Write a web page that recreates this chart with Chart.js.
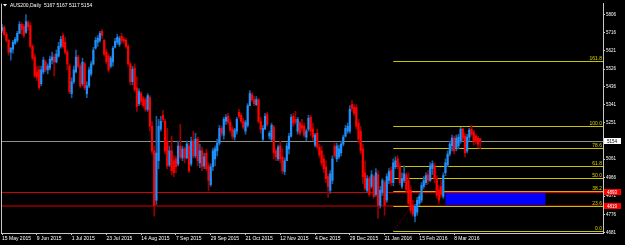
<!DOCTYPE html>
<html>
<head>
<meta charset="utf-8">
<script src="https://cdn.jsdelivr.net/npm/chart.js@4.4.1/dist/chart.umd.min.js"></script>
<style>
  html, body { margin: 0; padding: 0; background: #000; }
  canvas { display: block; }
</style>
</head>
<body>
<canvas id="chart" width="625" height="245"></canvas>
<script>
var chartTitle = 'AUS200,Daily  5167 5167 5117 5154';

// one date label every 16 bars, starting at bar 0
var dateLabels = ['15 May 2015', '9 Jun 2015', '1 Jul 2015', '23 Jul 2015', '14 Aug 2015', '7 Sep 2015',
  '29 Sep 2015', '21 Oct 2015', '12 Nov 2015', '4 Dec 2015', '29 Dec 2015', '21 Jan 2016', '15 Feb 2016', '8 Mar 2016'];

var opens = [5726,5741,5706,5675,5614,5629,5660,5675,5711,5757,
  5746,5716,5767,5751,5644,5588,5512,5522,5451,5512,
  5563,5522,5532,5573,5588,5563,5593,5644,5700,5665,
  5614,5542,5400,5461,5512,5588,5542,5451,5553,5400,
  5440,5502,5553,5634,5665,5675,5721,5675,5614,5593,
  5542,5563,5639,5665,5654,5695,5680,5675,5644,5553,
  5461,5532,5430,5348,5400,5374,5369,5318,5379,5231,
  5104,4849,5053,5216,5287,5257,5155,5032,5104,5053,
  5063,5037,5129,5068,5114,5068,5129,5037,5155,5078,
  5165,5042,5104,5027,5093,5027,4930,5022,5063,5104,
  5144,5221,5185,5257,5282,5252,5216,5175,5206,5303,
  5287,5257,5206,5236,5338,5394,5369,5343,5369,5257,
  5165,5216,5292,5180,5165,5226,5104,5063,5129,5073,
  4997,5053,5114,5180,5282,5267,5206,5247,5236,5231,
  5175,5216,5277,5216,5134,5195,5124,5104,5063,5022,
  4971,4900,4951,5129,5063,5073,5093,5139,5180,5206,
  5206,5343,5328,5328,5247,5206,5114,4991,4900,4961,
  4920,4971,4879,4981,4823,4889,4940,4849,4951,5002,
  4940,5022,5063,5022,4920,4951,4981,4951,4900,4823,
  4767,4787,4833,4849,4920,4940,4981,4951,5012,5027,
  4961,4900,4920,4869,4991,5032,5088,5129,5170,5114,
  5129,5155,5216,5180,5104,5175,5216,5201,5180,5170,
  5167];

var closes = [5741,5706,5675,5614,5634,5665,5680,5711,5757,5731,
  5700,5772,5746,5644,5583,5491,5486,5430,5522,5573,
  5522,5542,5578,5588,5563,5604,5644,5680,5644,5614,
  5553,5410,5461,5522,5588,5542,5440,5563,5430,5440,
  5522,5553,5624,5675,5685,5711,5700,5604,5563,5522,
  5583,5634,5670,5690,5685,5675,5670,5644,5553,5461,
  5527,5420,5333,5410,5359,5338,5318,5389,5231,5104,
  4823,5093,5231,5257,5267,5104,5027,5104,5002,4991,
  5022,5129,5073,5114,5068,5139,5002,5155,5078,5165,
  5053,5104,5022,5073,5012,4951,5022,5104,5114,5144,
  5221,5195,5267,5277,5252,5211,5180,5211,5267,5282,
  5257,5226,5252,5338,5400,5369,5348,5369,5257,5216,
  5221,5282,5241,5195,5236,5093,5073,5124,5063,5002,
  5053,5129,5180,5277,5247,5252,5267,5195,5221,5185,
  5206,5272,5206,5175,5185,5124,5083,5042,5012,4961,
  4920,4986,5063,5078,5129,5114,5139,5175,5221,5231,
  5318,5323,5298,5231,5165,5104,4971,4910,4961,4879,
  4981,4869,4991,4823,4900,4951,4823,4971,4997,4940,
  5042,5053,5022,4940,4961,4986,4905,4833,4798,4777,
  4818,4849,4869,4925,4951,4976,4951,5027,5037,4961,
  4874,4849,4879,4976,5042,5088,5139,5170,5104,5170,
  5175,5216,5170,5093,5175,5211,5190,5150,5155,5139,
  5154];

var highs = [5757,5751,5716,5680,5639,5675,5690,5721,5772,5767,
  5757,5808,5777,5767,5654,5604,5542,5542,5542,5588,
  5573,5553,5593,5614,5604,5624,5665,5695,5711,5690,
  5624,5553,5481,5542,5624,5598,5553,5583,5563,5461,
  5537,5568,5639,5690,5700,5721,5731,5680,5629,5604,
  5593,5644,5685,5706,5695,5711,5690,5685,5654,5563,
  5542,5553,5486,5425,5410,5384,5379,5400,5389,5257,
  5129,5282,5267,5282,5313,5267,5221,5129,5180,5078,
  5078,5155,5241,5129,5124,5155,5144,5175,5206,5195,
  5175,5139,5124,5093,5114,5042,5037,5119,5129,5165,
  5236,5231,5277,5292,5298,5267,5231,5221,5277,5318,
  5298,5272,5262,5348,5415,5405,5384,5384,5374,5277,
  5236,5298,5303,5206,5247,5236,5114,5134,5155,5114,
  5068,5144,5195,5292,5298,5308,5277,5257,5267,5247,
  5216,5287,5287,5247,5195,5216,5139,5129,5083,5053,
  4986,5002,5078,5144,5144,5134,5155,5185,5236,5247,
  5338,5364,5343,5343,5267,5231,5139,5053,4976,4971,
  5002,4981,5012,5002,4920,4961,4951,4986,5012,5022,
  5063,5073,5078,5042,4991,5027,4991,4991,4925,4849,
  4828,4864,4884,4940,4971,4991,5002,5042,5053,5042,
  4976,4925,4951,4991,5063,5104,5155,5185,5180,5185,
  5190,5226,5221,5195,5190,5221,5236,5211,5190,5180,
  5167];

var lows = [5716,5700,5665,5598,5573,5609,5654,5665,5711,5706,
  5690,5711,5726,5634,5573,5481,5466,5420,5440,5502,
  5512,5502,5522,5553,5491,5558,5588,5634,5634,5604,
  5522,5400,5379,5451,5507,5532,5430,5440,5420,5379,
  5430,5491,5547,5629,5644,5665,5685,5593,5553,5512,
  5532,5542,5634,5654,5644,5660,5660,5634,5542,5445,
  5445,5410,5308,5338,5343,5328,5308,5308,5206,5088,
  4767,4828,5012,5206,5252,5088,5012,5022,4981,4971,
  4991,5027,5063,5053,5042,5063,4991,5027,5068,5068,
  5027,5017,5002,5012,5002,4900,4920,5002,5027,5078,
  5134,5180,5165,5241,5241,5201,5165,5160,5190,5272,
  5247,5216,5190,5226,5338,5359,5338,5338,5247,5195,
  5155,5216,5231,5165,5155,5063,5053,5053,5042,4986,
  4981,5053,5088,5175,5231,5241,5190,5185,5206,5175,
  5155,5206,5185,5155,5124,5114,5068,5027,4991,4940,
  4864,4884,4935,5068,5048,5063,5078,5129,5175,5195,
  5195,5308,5287,5216,5144,5088,4935,4900,4889,4869,
  4910,4859,4869,4757,4808,4874,4772,4838,4935,4925,
  4925,5012,5012,4930,4910,4940,4895,4818,4782,4767,
  4737,4772,4823,4838,4910,4930,4935,4946,4981,4940,
  4859,4833,4864,4859,4976,5022,5078,5104,5088,5104,
  5114,5144,5155,5073,5093,5155,5180,5134,5139,5119,
  5117];

var priceTicks = [5806, 5716, 5621, 5526, 5436, 5341, 5251, 5061, 4966, 4871, 4776, 4681];
var fibLevels = [0.0, 23.6, 38.2, 50.0, 61.8, 78.6, 100.0, 161.8];
var fibLow = 4692, fibHigh = 5234;
var fibStartBar = 180, fibEndBar = 216;
var currentPrice = 5154;
var supportLines = [4893, 4819];
var zoneBars = [204, 250];
var zonePrices = [4893, 4819];

var slotCount = 277;   // bars that fit across the window, incl. empty right margin
var slots = [];
for (var s = 0; s < slotCount; s++) slots.push(s);

function isBull(i) { return closes[i] >= opens[i]; }

function hline(ctx, x0, x1, y, color, w) {
  ctx.strokeStyle = color;
  ctx.lineWidth = w;
  ctx.beginPath();
  ctx.moveTo(x0, Math.round(y) + (w % 2 ? 0.5 : 0));
  ctx.lineTo(x1, Math.round(y) + (w % 2 ? 0.5 : 0));
  ctx.stroke();
}

var overlay = {
  id: 'overlay',
  beforeDatasetsDraw: function(chart) {
    var ctx = chart.ctx, xs = chart.scales.x, ys = chart.scales.y, a = chart.chartArea;
    ctx.save();

    // blue zone
    var zx0 = xs.getPixelForValue(zoneBars[0]), zx1 = xs.getPixelForValue(zoneBars[1]);
    var zy0 = ys.getPixelForValue(zonePrices[0]), zy1 = ys.getPixelForValue(zonePrices[1]);
    ctx.fillStyle = '#0000ff';
    ctx.fillRect(zx0, zy0, zx1 - zx0, zy1 - zy0);

    // horizontal lines
    hline(ctx, a.left, a.right, ys.getPixelForValue(currentPrice), '#8c8c8c', 1);
    hline(ctx, a.left, a.right, ys.getPixelForValue(supportLines[0]), '#d00000', 1);
    hline(ctx, a.left, a.right, ys.getPixelForValue(supportLines[1]), '#6e0000', 2);

    // fibonacci levels
    var fx = xs.getPixelForValue(fibStartBar);
    fibLevels.forEach(function(lv) {
      var p = fibLow + (fibHigh - fibLow) * lv / 100;
      hline(ctx, fx, a.right, ys.getPixelForValue(p), lv === 38.2 ? '#f0a000' : '#c8c400', 1);
    });

    // fibonacci trend line
    ctx.strokeStyle = '#b00000';
    ctx.lineWidth = 1;
    ctx.setLineDash([1, 2]);
    ctx.beginPath();
    ctx.moveTo(fx, ys.getPixelForValue(fibLow));
    ctx.lineTo(xs.getPixelForValue(fibEndBar), ys.getPixelForValue(fibHigh));
    ctx.stroke();
    ctx.setLineDash([]);
    ctx.restore();
  },
  afterDraw: function(chart) {
    var ctx = chart.ctx, ys = chart.scales.y, a = chart.chartArea;
    ctx.save();

    // left frame line
    ctx.strokeStyle = '#c8c8c8';
    ctx.lineWidth = 1;
    ctx.beginPath();
    ctx.moveTo(a.left + 0.5, a.top);
    ctx.lineTo(a.left + 0.5, a.bottom);
    ctx.stroke();

    // fib level labels
    ctx.font = '5px "Liberation Sans"';
    ctx.fillStyle = '#d8d400';
    ctx.textAlign = 'right';
    ctx.textBaseline = 'bottom';
    fibLevels.forEach(function(lv) {
      var p = fibLow + (fibHigh - fibLow) * lv / 100;
      ctx.fillText(lv.toFixed(1), a.right - 1, Math.round(ys.getPixelForValue(p)));
    });

    // price boxes on the axis
    ctx.textAlign = 'left';
    ctx.textBaseline = 'middle';
    ctx.font = '4.5px "Liberation Sans"';
    var boxes = [[currentPrice, '#ffffff', '#000000'], [supportLines[0], '#ff0000', '#ffffff'], [supportLines[1], '#ff0000', '#ffffff']];
    boxes.forEach(function(b) {
      var y = Math.round(ys.getPixelForValue(b[0]));
      ctx.fillStyle = b[1];
      ctx.fillRect(a.right + 1, y - 3, 17, 6);
      ctx.fillStyle = b[2];
      ctx.fillText(String(b[0]), a.right + 4, y + 0.5);
    });

    // title
    ctx.fillStyle = '#ffffff';
    ctx.beginPath();
    ctx.moveTo(3, 4); ctx.lineTo(7, 4); ctx.lineTo(5, 6.5); ctx.closePath();
    ctx.fill();
    ctx.font = '5px "Liberation Sans"';
    ctx.textBaseline = 'middle';
    ctx.fillText(chartTitle, 10, 5.5);
    ctx.restore();
  }
};

new Chart(document.getElementById('chart'), {
  type: 'bar',
  data: {
    labels: slots,
    datasets: [{
      label: 'body',
      data: opens.map(function(o, i) { return [o, closes[i]]; }),
      backgroundColor: function(c) { return isBull(c.dataIndex) ? '#1e90ff' : '#ff0000'; },
      barThickness: 1.5,
      minBarLength: 1,
      grouped: false
    }, {
      label: 'wick',
      data: lows.map(function(l, i) { return [l, highs[i]]; }),
      backgroundColor: function(c) { return isBull(c.dataIndex) ? '#1a5c9c' : '#990000'; },
      barThickness: 1,
      grouped: false
    }]
  },
  options: {
    responsive: false,
    animation: false,
    layout: { padding: { left: 1, top: 1, right: 0, bottom: 0 } },
    plugins: { legend: { display: false }, tooltip: { enabled: false } },
    scales: {
      x: {
        afterBuildTicks: function(scale) {
          scale.ticks = scale.ticks.filter(function(t) {
            return t.value % 16 === 0 && t.value / 16 < dateLabels.length;
          });
        },
        afterFit: function(scale) { scale.height = 12; },
        border: { display: true, color: '#c8c8c8' },
        grid: { drawOnChartArea: false, drawTicks: true, tickLength: 2, offset: false, color: '#c8c8c8' },
        ticks: {
          autoSkip: false, maxRotation: 0, align: 'start', padding: 1,
          color: '#ffffff', font: { family: 'Liberation Sans', size: 5 },
          callback: function(v) { return dateLabels[v / 16]; }
        }
      },
      y: {
        position: 'right',
        min: 4680,
        max: 5864,
        afterBuildTicks: function(scale) {
          scale.ticks = priceTicks.map(function(v) { return { value: v }; });
        },
        afterFit: function(scale) { scale.width = 22; },
        border: { display: true, color: '#c8c8c8' },
        grid: { drawOnChartArea: false, drawTicks: true, tickLength: 2, color: '#c8c8c8' },
        ticks: {
          padding: 1, color: '#ffffff', font: { family: 'Liberation Sans', size: 4.5 },
          callback: function(v) { return String(v); }
        }
      }
    }
  },
  plugins: [overlay]
});
</script>
</body>
</html>
